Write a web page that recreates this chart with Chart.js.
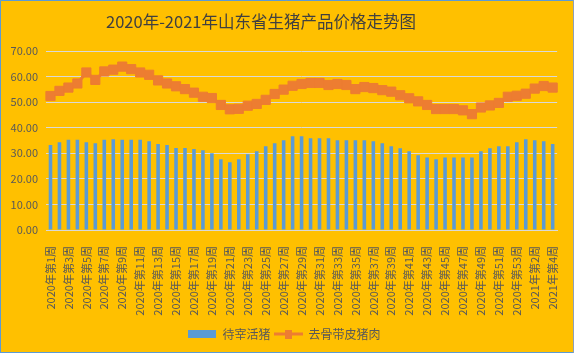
<!DOCTYPE html>
<html><head><meta charset="utf-8">
<script src="https://cdn.jsdelivr.net/npm/chart.js@4.4.1/dist/chart.umd.min.js"></script>
<style>html,body{margin:0;padding:0;background:#FFC000;}canvas{display:block;}</style>
</head><body>
<canvas id="c" width="574" height="353"></canvas>
<script>
const titleText = '2020年-2021年山东省生猪产品价格走势图';
const seriesNames = ['待宰活猪', '去骨带皮猪肉'];
const categories = [
 '2020年第1周','2020年第2周','2020年第3周','2020年第4周','2020年第5周','2020年第6周','2020年第7周','2020年第8周','2020年第9周','2020年第10周',
 '2020年第11周','2020年第12周','2020年第13周','2020年第14周','2020年第15周','2020年第16周','2020年第17周','2020年第18周','2020年第19周','2020年第20周',
 '2020年第21周','2020年第22周','2020年第23周','2020年第24周','2020年第25周','2020年第26周','2020年第27周','2020年第28周','2020年第29周','2020年第30周',
 '2020年第31周','2020年第32周','2020年第33周','2020年第34周','2020年第35周','2020年第36周','2020年第37周','2020年第38周','2020年第39周','2020年第40周',
 '2020年第41周','2020年第42周','2020年第43周','2020年第44周','2020年第45周','2020年第46周','2020年第47周','2020年第48周','2020年第49周','2020年第50周',
 '2020年第51周','2020年第52周','2020年第53周','2021年第1周','2021年第2周','2021年第3周','2021年第4周'
];
const livePig = [
 33.2,34.3,35.3,35.3,34.3,33.9,35.3,35.5,35.3,35.3,35.3,34.7,33.6,33.2,32.1,32.1,31.7,
 31.2,30.0,27.7,26.5,27.7,29.6,30.8,32.8,33.9,35.1,36.7,36.7,35.9,35.9,35.9,35.1,35.1,35.1,35.1,34.7,33.9,
 32.8,32.0,30.8,29.2,28.4,27.7,28.4,28.4,28.4,28.4,30.8,32.0,32.8,32.8,34.3,35.5,35.1,34.7,33.6
];
const porkBoneless = [
 52.4,54.4,55.7,57.3,61.6,58.7,62.0,62.7,63.9,62.9,61.6,60.7,58.5,57.3,56.2,55.1,
 53.7,52.1,51.6,48.9,47.2,47.4,48.6,49.3,50.9,53.2,54.9,56.4,
 57.1,57.5,57.5,56.7,57.1,56.7,55.1,55.9,55.5,54.7,54.1,52.7,51.5,50.3,48.9,
 47.3,47.3,47.3,46.8,45.3,47.9,48.7,49.7,52.1,52.5,53.3,55.3,56.3,55.7
];
const yTicks = [0,10,20,30,40,50,60,70];

const BLUE = '#5B9BD5', ORANGE = '#ED7D31', GRID = '#D9D9D9', TXT = '#595959';
const FONT = '"Noto Sans CJK SC", "Noto Sans", sans-serif';

// legend symbols
const barSym = document.createElement('canvas'); barSym.width = 28; barSym.height = 8;
(function(){const g=barSym.getContext('2d'); g.fillStyle=BLUE; g.fillRect(0,0,28,8);})();
const lineSym = document.createElement('canvas'); lineSym.width = 29; lineSym.height = 9;
(function(){const g=lineSym.getContext('2d'); g.fillStyle=ORANGE; g.fillRect(0,3,29,3); g.fillRect(11,0,7,9);})();
const legendSyms = [barSym, lineSym];

const bgPlugin = {
  id: 'bg',
  beforeDraw(chart){ const c=chart.ctx; c.save(); c.fillStyle='#FFC000'; c.fillRect(0,0,chart.width,chart.height); c.restore(); },
  afterDraw(chart){ const c=chart.ctx; c.save();
    c.fillStyle='#404040'; c.font='16.5px ' + FONT; c.textAlign='center'; c.textBaseline='middle';
    c.fillText(titleText, 261, 21.5);
    c.lineWidth=1; c.strokeStyle='#5B9BD5';
    c.beginPath(); c.moveTo(0.5,353); c.lineTo(0.5,0.5); c.lineTo(573,0.5); c.moveTo(0,352.5); c.lineTo(574,352.5); c.stroke();
    c.strokeStyle='#8EA0B8'; c.beginPath(); c.moveTo(573.5,0); c.lineTo(573.5,353); c.stroke(); c.restore(); }
};

new Chart(document.getElementById('c'), {
  data: {
    labels: categories,
    datasets: [
      { type: 'bar', label: seriesNames[0], data: livePig, backgroundColor: BLUE,
        categoryPercentage: 0.8, barPercentage: 0.5 },
      { type: 'line', label: seriesNames[1], data: porkBoneless, borderColor: ORANGE, borderWidth: 3,
        pointStyle: 'rect', pointRadius: 6.5, pointBackgroundColor: ORANGE, pointBorderColor: ORANGE,
        pointBorderWidth: 1, tension: 0 }
    ]
  },
  options: {
    responsive: false, animation: false,
    layout: { padding: { left: 10, right: 15, top: 51, bottom: 3 } },
    plugins: {
      title: { display: false },
      legend: { position: 'bottom',
        labels: { usePointStyle: true, pointStyleWidth: 28, boxHeight: 8, padding: 4, color: TXT,
          font: { family: FONT, size: 12 },
          generateLabels(chart){
            const items = Chart.defaults.plugins.legend.labels.generateLabels(chart);
            items.forEach(it=>{ it.pointStyle = legendSyms[it.datasetIndex]; });
            items.sort((a,b)=>a.datasetIndex-b.datasetIndex);
            return items;
          } } },
      tooltip: { enabled: false }
    },
    scales: {
      x: {
        grid: { display: false }, border: { display: true, color: GRID },
        ticks: { autoSkip: false, minRotation: 90, maxRotation: 90, padding: 8, color: TXT,
          font: { family: FONT, size: 11 },
          callback(v, i){ return i % 2 === 0 ? categories[i] : ''; } },
        afterFit(s){ s.height = 94; }
      },
      y: {
        min: 0, max: 70,
        afterBuildTicks(s){ s.ticks = yTicks.map(v=>({value:v})); },
        grid: { color: GRID, drawTicks: false }, border: { display: false },
        ticks: { padding: 8, color: TXT, font: { family: FONT, size: 11 },
          callback(v){ return Number(v).toFixed(2); } },
        afterFit(s){ s.width = 36; }
      }
    }
  },
  plugins: [bgPlugin]
});
</script>
</body></html>
